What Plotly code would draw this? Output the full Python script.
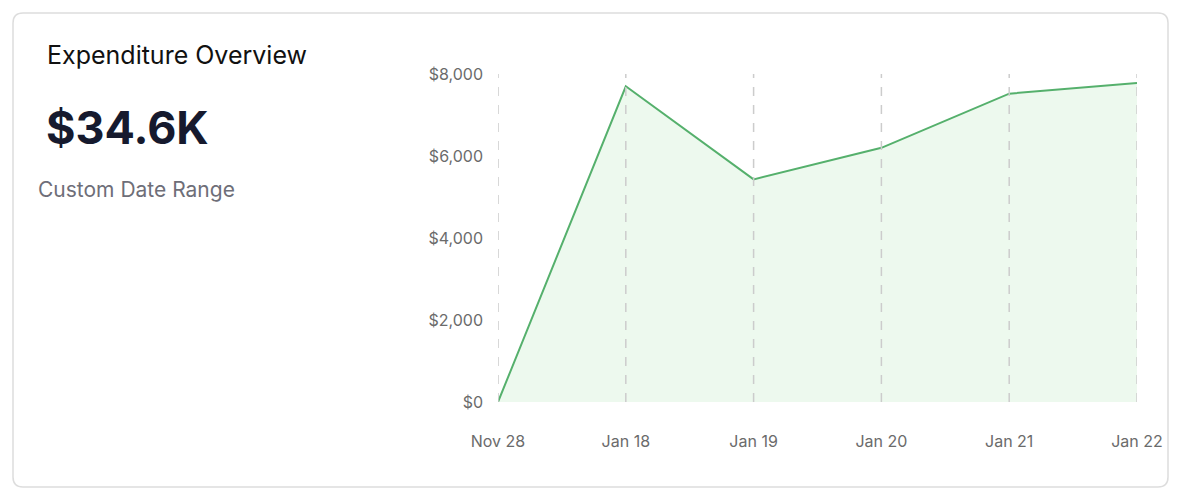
import plotly.graph_objects as go

# page renders with an 8px body margin, so the figure is drawn 8px smaller
OFF = 8
W, H = 1190 - OFF, 504 - OFF
L, R, T, B = 498 - OFF, 1137 - OFF, 74 - OFF, 402 - OFF

dates = ["Nov 28", "Jan 18", "Jan 19", "Jan 20", "Jan 21", "Jan 22"]
spend = [0, 7700, 5430, 6200, 7520, 7780]
y_ticks = [0, 2000, 4000, 6000, 8000]
y_labels = ["$0", "$2,000", "$4,000", "$6,000", "$8,000"]


def px(x):
    return (x - OFF - L) / (R - L)


def py(y):
    return (B - (y - OFF)) / (B - T)


fig = go.Figure(go.Scatter(
    x=dates, y=spend, mode="lines", fill="tozeroy",
    line=dict(color="#55b06c", width=2), fillcolor="#edf9ee",
    hoverinfo="skip",
))

# rounded card outline
x0, x1, y0, y1, r = px(13), px(1168), py(487), py(13), 10
rx, ry = r / (R - L), r / (B - T)
card = (f"M {x0+rx},{y0} L {x1-rx},{y0} Q {x1},{y0} {x1},{y0+ry} "
        f"L {x1},{y1-ry} Q {x1},{y1} {x1-rx},{y1} L {x0+rx},{y1} "
        f"Q {x0},{y1} {x0},{y1-ry} L {x0},{y0+ry} Q {x0},{y0} {x0+rx},{y0} Z")

shapes = [dict(type="path", path=card, xref="paper", yref="paper",
               line=dict(color="#dddddd", width=1.5), layer="below")]
# dashed vertical guides drawn above the area fill
for d in dates:
    shapes.append(dict(type="line", x0=d, x1=d, y0=0, y1=1, xref="x", yref="paper",
                       line=dict(color="#cccccc", width=1.5, dash="dash"), layer="above"))

fig.update_layout(
    width=W, height=H,
    margin=dict(l=L, r=W - R, t=T, b=H - B),
    paper_bgcolor="white", plot_bgcolor="white",
    showlegend=False,
    font=dict(family="Inter", color="#6b6b6b", size=16),
    shapes=shapes,
    xaxis=dict(range=[0, 5], showgrid=False, zeroline=False, showline=False, ticks="",
               ticklabelstandoff=28),
    yaxis=dict(range=[0, 8000], tickvals=y_ticks, ticktext=y_labels,
               showgrid=False, zeroline=False, showline=False, ticks="",
               ticklabelstandoff=14),
    annotations=[
        dict(text="Expenditure Overview", x=px(45), y=py(55), xref="paper", yref="paper",
             xanchor="left", yanchor="middle", showarrow=False,
             font=dict(size=25, color="#111111", family="Inter")),
        dict(text="<b>$34.6K</b>", x=px(44), y=py(127), xref="paper", yref="paper",
             xanchor="left", yanchor="middle", showarrow=False,
             font=dict(size=45, color="#161a2e", family="Inter")),
        dict(text="Custom Date Range", x=px(36), y=py(189), xref="paper", yref="paper",
             xanchor="left", yanchor="middle", showarrow=False,
             font=dict(size=21, color="#6e6e78", family="Inter")),
    ],
)

fig.write_html("out.html")
